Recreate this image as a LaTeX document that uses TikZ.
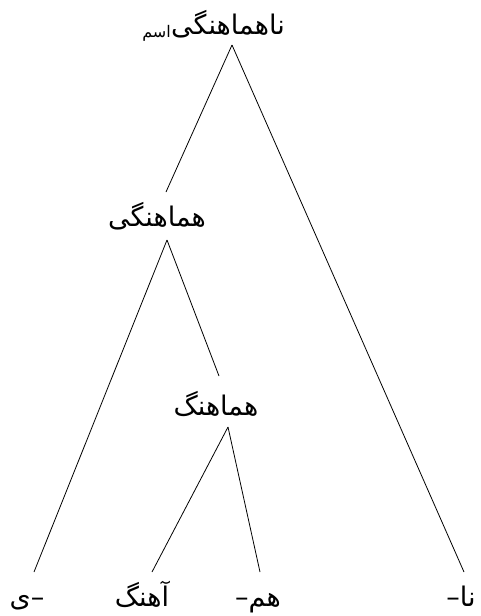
\documentclass[tikz,border=0pt]{standalone}
\usepackage{fontspec}
\newfontfamily\arabicfont[Script=Arabic]{DejaVu Sans}
\TeXXeTstate=1
\begin{document}
\begin{tikzpicture}[x=1pt,y=-1pt,
  lab/.style={font=\arabicfont\fontsize{27}{31}\selectfont, inner sep=0pt, anchor=base},
  sublab/.style={font=\arabicfont\fontsize{16}{19}\selectfont, inner sep=0pt, anchor=base east},
  edge/.style={line width=0.8pt, black}]
\useasboundingbox (0,0) rectangle (481,616);
\node[lab] (root) at (228,34) {\beginR ناهماهنگی\endR};
\node[sublab] (sub) at ([xshift=0pt,yshift=-3pt]root.base west) {\beginR اسم\endR};
\node[lab] (hgi) at (157,226) {\beginR هماهنگی\endR};
\node[lab] (hg) at (216,415) {\beginR هماهنگ\endR};
\node[lab] (ye) at (27,606) {\beginR –ی\endR};
\node[lab] (ahang) at (142,606) {\beginR آهنگ\endR};
\node[lab] (ham) at (258,606) {\beginR هم–\endR};
\node[lab] (na) at (461,606) {\beginR نا–\endR};
\draw[edge] ([xshift=4pt,yshift=-11pt]root.base) -- ([xshift=9pt,yshift=34pt]hgi.base);
\draw[edge] ([xshift=4pt,yshift=-11pt]root.base) -- ([xshift=3pt,yshift=34pt]na.base);
\draw[edge] ([xshift=10pt,yshift=-14pt]hgi.base) -- ([xshift=7pt,yshift=34pt]ye.base);
\draw[edge] ([xshift=10pt,yshift=-14pt]hgi.base) -- ([xshift=3pt,yshift=39pt]hg.base);
\draw[edge] ([xshift=12pt,yshift=-12pt]hg.base) -- ([xshift=10pt,yshift=34pt]ahang.base);
\draw[edge] ([xshift=12pt,yshift=-12pt]hg.base) -- ([xshift=2pt,yshift=34pt]ham.base);
\end{tikzpicture}
\end{document}
